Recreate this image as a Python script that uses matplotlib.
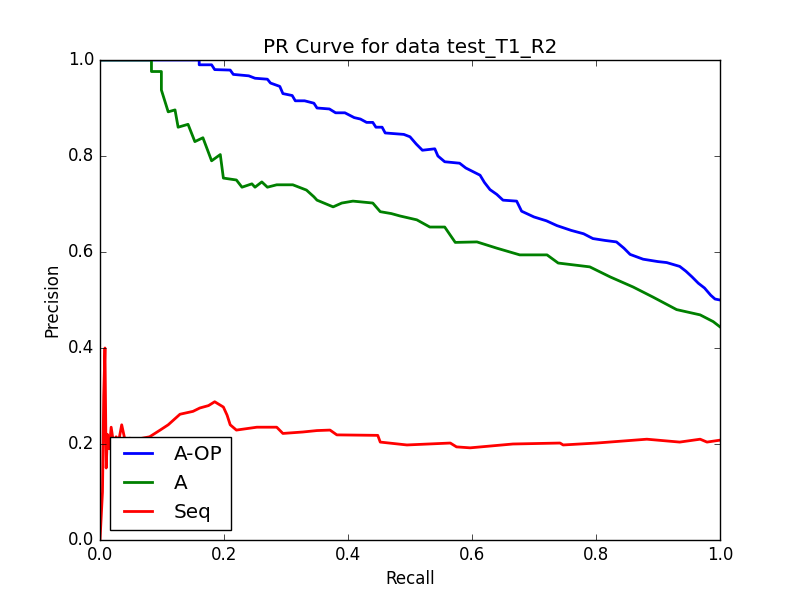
import matplotlib
matplotlib.use("Agg")
import matplotlib.pyplot as plt

plt.style.use("classic")

title = "PR Curve for data test_T1_R2"
labels = ["A-OP", "A", "Seq"]

aop_recall = [0, 0.16, 0.16, 0.18, 0.185, 0.21, 0.215, 0.24, 0.25, 0.27, 0.275, 0.29, 0.295, 0.31, 0.315,
              0.33, 0.345, 0.35, 0.37, 0.38, 0.395, 0.41, 0.42, 0.43, 0.44, 0.445, 0.455, 0.46, 0.49, 0.5,
              0.51, 0.52, 0.54, 0.545, 0.556, 0.58, 0.59, 0.613, 0.62, 0.629, 0.64, 0.65, 0.672, 0.68, 0.7,
              0.72, 0.737, 0.76, 0.78, 0.795, 0.815, 0.833, 0.845, 0.855, 0.876, 0.9, 0.914, 0.935, 0.945,
              0.955, 0.965, 0.975, 0.985, 0.992, 1.0]
aop_precision = [1.0, 1.0, 0.99, 0.99, 0.98, 0.979, 0.97, 0.967, 0.962, 0.96, 0.952, 0.945, 0.93, 0.926, 0.915,
                 0.915, 0.91, 0.9, 0.898, 0.89, 0.89, 0.88, 0.877, 0.87, 0.87, 0.86, 0.86, 0.848, 0.845, 0.84,
                 0.825, 0.812, 0.815, 0.8, 0.788, 0.785, 0.775, 0.76, 0.745, 0.73, 0.72, 0.708, 0.706, 0.685, 0.673,
                 0.665, 0.655, 0.645, 0.638, 0.628, 0.624, 0.621, 0.608, 0.595, 0.585, 0.58, 0.578, 0.57, 0.56,
                 0.548, 0.535, 0.525, 0.51, 0.502, 0.5]

a_recall = [0, 0.083, 0.083, 0.099, 0.099, 0.11, 0.121, 0.126, 0.142, 0.153, 0.166, 0.18, 0.194, 0.199, 0.22,
            0.229, 0.245, 0.25, 0.261, 0.27, 0.285, 0.311, 0.333, 0.345, 0.35, 0.376, 0.39, 0.408, 0.44, 0.452,
            0.47, 0.484, 0.511, 0.532, 0.556, 0.565, 0.573, 0.608, 0.64, 0.677, 0.721, 0.739, 0.79, 0.823, 0.86,
            0.892, 0.93, 0.968, 0.989, 1.0]
a_precision = [1.0, 1.0, 0.976, 0.976, 0.9375, 0.892, 0.896, 0.86, 0.866, 0.83, 0.838, 0.79, 0.803, 0.754, 0.75,
               0.735, 0.742, 0.735, 0.746, 0.735, 0.74, 0.74, 0.729, 0.715, 0.708, 0.694, 0.702, 0.706, 0.702, 0.684,
               0.68, 0.675, 0.667, 0.652, 0.652, 0.635, 0.62, 0.621, 0.608, 0.594, 0.594, 0.577, 0.569, 0.548, 0.527,
               0.506, 0.48, 0.469, 0.455, 0.444]

seq_recall = [0, 0.004, 0.006, 0.008, 0.01, 0.012, 0.015, 0.018, 0.022, 0.026, 0.03, 0.035, 0.04, 0.048, 0.06,
              0.08, 0.097, 0.11, 0.129, 0.15, 0.161, 0.175, 0.185, 0.199, 0.205, 0.21, 0.22, 0.253, 0.285, 0.295,
              0.327, 0.35, 0.371, 0.382, 0.448, 0.452, 0.495, 0.565, 0.575, 0.597, 0.666, 0.742, 0.747, 0.801,
              0.882, 0.935, 0.968, 0.979, 1.0]
seq_precision = [0.0, 0.1, 0.3, 0.40, 0.15, 0.22, 0.19, 0.235, 0.2, 0.215, 0.205, 0.24, 0.21, 0.212, 0.21,
                 0.215, 0.229, 0.24, 0.262, 0.268, 0.275, 0.28, 0.288, 0.277, 0.26, 0.24, 0.229, 0.235, 0.235, 0.222,
                 0.225, 0.228, 0.229, 0.219, 0.218, 0.204, 0.198, 0.202, 0.194, 0.192, 0.2, 0.202, 0.198, 0.202,
                 0.21, 0.204, 0.21, 0.204, 0.208]

fig = plt.figure(figsize=(8, 6), dpi=100)
ax = fig.add_subplot(111)
ax.plot(aop_recall, aop_precision, color="b", lw=2, label=labels[0])
ax.plot(a_recall, a_precision, color="g", lw=2, label=labels[1])
ax.plot(seq_recall, seq_precision, color="r", lw=2, label=labels[2])
ax.set_xlim(0, 1)
ax.set_ylim(0, 1)
ax.set_xlabel("Recall")
ax.set_ylabel("Precision")
ax.set_title(title)
ax.legend(loc="lower left")
fig.savefig("out.png", dpi=100, facecolor="white")
